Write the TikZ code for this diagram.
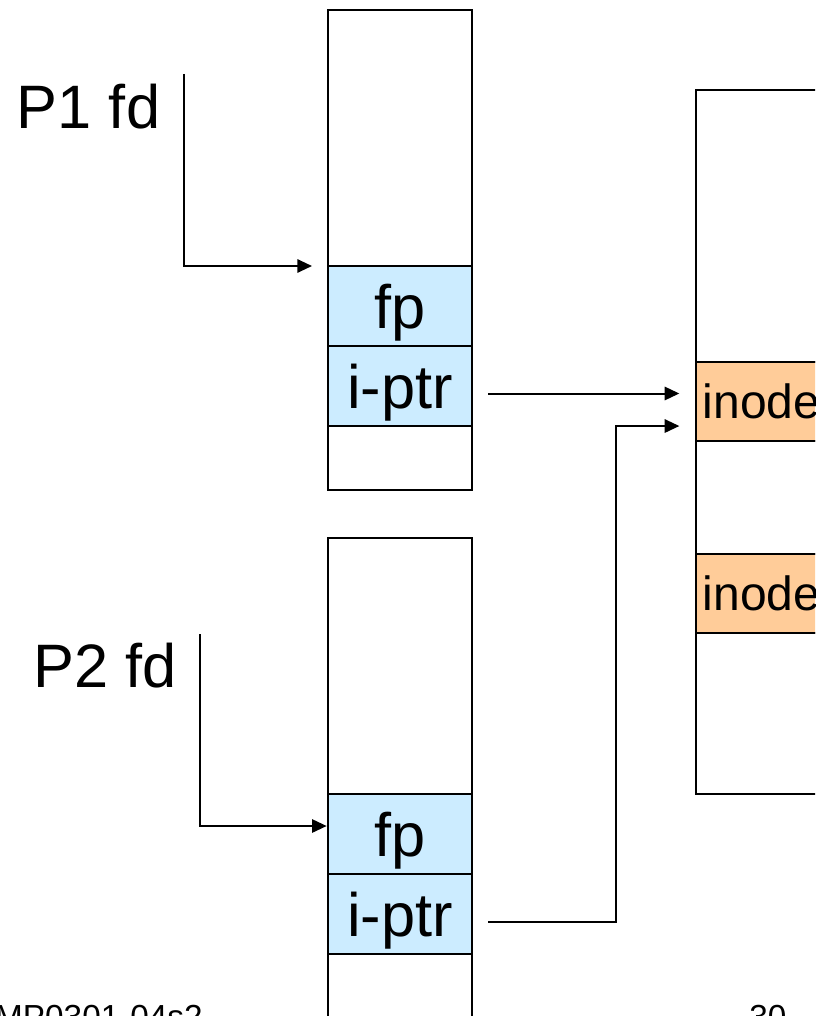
\documentclass[tikz,border=0pt]{standalone}
\usepackage{fontspec}
\setmainfont{Liberation Sans}
\usetikzlibrary{positioning, arrows.meta}
\definecolor{slotblue}{RGB}{204,236,255}
\definecolor{inodeorange}{RGB}{255,204,153}
\tikzset{>={Triangle[length=11pt,width=10pt]}}

\begin{document}
\begin{tikzpicture}[x=0.75pt, y=-0.75pt,
  cell/.style={draw, line width=1.5pt, outer sep=0pt, inner sep=0pt, minimum width=108pt},
  slot/.style={cell, fill=slotblue, minimum height=60pt, text depth=0pt, font=\fontsize{46}{50}\selectfont},
  wide/.style={cell, minimum width=183pt},
  inodecell/.style={wide, fill=inodeorange, minimum height=59.25pt, inner xsep=5pt,
    text width=173pt, align=left, text depth=0pt, font=\fontsize{36}{40}\selectfont},
  fdlabel/.style={inner sep=0pt, font=\fontsize{46}{50}\selectfont},
  foot/.style={inner sep=0pt, font=\fontsize{25}{30}\selectfont},
  ptr/.style={line width=1.5pt}]

\useasboundingbox (0,0) rectangle (815,1016);
\clip (0,0) rectangle (815,1016);

% File table of P1
\node[cell, minimum height=192pt, anchor=north] (ft1top) at (400,10) {};
\node[slot, below=0pt of ft1top] (fp1) {fp};
\node[slot, below=0pt of fp1] (ip1) {i-ptr};
\node[cell, minimum height=48pt, below=0pt of ip1] (ft1bot) {};

% File table of P2
\node[cell, minimum height=192pt, anchor=north] (ft2top) at (400,538) {};
\node[slot, below=0pt of ft2top] (fp2) {fp};
\node[slot, below=0pt of fp2] (ip2) {i-ptr};
\node[cell, minimum height=48pt, below=0pt of ip2] (ft2bot) {};

% Inode table
\node[wide, minimum height=204pt, anchor=north west] (itop) at (696,90) {};
\node[inodecell, below=0pt of itop] (in1) {inode};
\node[wide, minimum height=84.75pt, below=0pt of in1] (imid) {};
\node[inodecell, below=0pt of imid] (in2) {inode};
\node[wide, minimum height=120.75pt, below=0pt of in2] (ibot) {};

% Process descriptors
\node[fdlabel, anchor=base west] (p1) at (16.7,129) {P1 fd};
\node[fdlabel, anchor=base west] (p2) at (33,687.7) {P2 fd};
\coordinate (p1src) at (183.7,74);
\coordinate (p2src) at (200,634);

\draw[ptr, ->] (p1src) |- ([xshift=-12pt]fp1.north west);
\draw[ptr, ->] (p2src) |- ([xshift=-1pt,yshift=6pt]fp2.west);

% i-ptr to inode
\coordinate (ip1out) at ([xshift=12pt]ip1.east);
\coordinate (in1a) at ([xshift=-12.5pt,yshift=6pt]in1.west);
\coordinate (in1b) at ([xshift=-12.5pt,yshift=-18.4pt]in1.west);
\draw[ptr, ->] (ip1out |- in1a) -- (in1a);
\draw[ptr, ->] ([xshift=12pt,yshift=-6pt]ip2.east) -- ++(96pt,0) |- (in1b);

% Footer
\node[foot, anchor=north east] (slideid) at (203,1005) {MP0301-04s2};
\node[foot, anchor=north west] (pageno) at (749,1005) {30};

\end{tikzpicture}
\end{document}
